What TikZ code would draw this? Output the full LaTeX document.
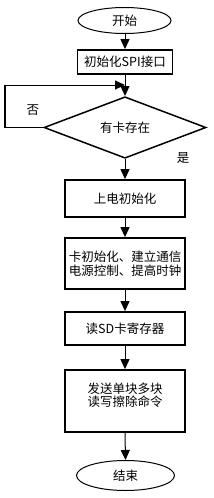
\documentclass[tikz,border=0pt]{standalone}
\usepackage{fontspec}
\newfontfamily\cjk{Noto Sans CJK SC}
\usetikzlibrary{shapes.geometric,arrows.meta}
\begin{document}
\begin{tikzpicture}[x=1pt,y=-1pt,
  font=\cjk\fontsize{12.5}{13.5}\selectfont,
  box/.style={draw, line width=1.8pt, minimum width=120pt, inner sep=0pt, align=center},
  term/.style={draw, ellipse, line width=1pt, inner sep=0pt},
  arr/.style={line width=1pt, -{Triangle[length=10pt,width=9pt]}},
  lbl/.style={inner sep=0pt}]
\fill[white] (0,0) rectangle (214,498);
\useasboundingbox (0,0) rectangle (214,498);
\node[term, minimum width=93pt, minimum height=26pt] (start) at (124.5,20.5) {开始};
\node[draw, line width=1.8pt, minimum width=95pt, minimum height=24pt, inner sep=0pt] (spi) at (125,62) {初始化SPI接口};
\node[draw, diamond, line width=1.5pt, minimum width=162pt, minimum height=61pt, inner sep=0pt] (dia) at (125,127.5) {有卡存在};
\node[box, minimum height=37pt] (pw) at (125,198.5) {上电初始化};
\node[box, minimum height=51pt] (ci) at (125,263.5) {卡初始化、建立通信\\电源控制、提高时钟};
\node[box, minimum height=33pt] (rd) at (125,328.5) {读SD卡寄存器};
\node[box, minimum height=62pt] (cmd) at (125,401) {};
\node[lbl, align=center] (cmdt) at (125,395.5) {发送单块多块\\读写擦除命令};
\node[term, minimum width=98pt, minimum height=30pt] (end) at (125.5,475.5) {结束};
\coordinate (lb) at (5,127.5);
\coordinate (lt) at (5,85);
\coordinate (j) at (125,85);
\node[lbl] (no) at (33,110) {否};
\node[lbl] (yes) at (183,158) {是};
\draw[arr] (start.south -| spi.north) -- (spi.north);
\draw[arr] (spi.south) -- (dia.north);
\draw[line width=1.5pt] (dia.west) -- (lb) -- (lt);
\draw[arr] (lt) -- (j);
\draw[arr] (dia.south) -- (pw.north);
\draw[arr] (pw.south) -- (ci.north);
\draw[arr] (ci.south) -- (rd.north);
\draw[arr] (rd.south) -- (cmd.north);
\draw[arr] (cmd.south) -- (end.north);
\end{tikzpicture}
\end{document}
